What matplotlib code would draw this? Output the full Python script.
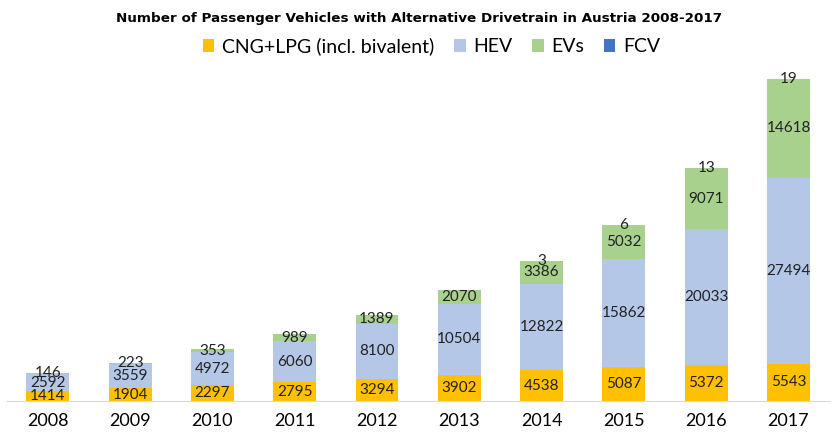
import matplotlib
matplotlib.use("Agg")
import matplotlib.pyplot as plt
import numpy as np

years = ["2008", "2009", "2010", "2011", "2012", "2013", "2014", "2015", "2016", "2017"]
cng = [1414, 1904, 2297, 2795, 3294, 3902, 4538, 5087, 5372, 5543]
hev = [2592, 3559, 4972, 6060, 8100, 10504, 12822, 15862, 20033, 27494]
evs = [146, 223, 353, 989, 1389, 2070, 3386, 5032, 9071, 14618]
fcv = [0, 0, 0, 0, 0, 0, 3, 6, 13, 19]

series = [("CNG+LPG (incl. bivalent)", cng, "#FFC000"),
          ("HEV", hev, "#B4C7E7"),
          ("EVs", evs, "#A9D18E"),
          ("FCV", fcv, "#4472C4")]

plt.rcParams['font.family'] = ['Lato', 'DejaVu Sans']
fig = plt.figure(figsize=(8.38, 4.33), dpi=100)
ax = fig.add_axes([0.008, 0.074, 0.982, 0.78])

x = np.arange(len(years))
bottom = np.zeros(len(years))
for name, vals, col in series:
    v = np.array(vals, dtype=float)
    ax.bar(x, v, 0.52, bottom=bottom, color=col, label=name, zorder=2)
    for xi, b, val in zip(x, bottom, v):
        if val > 0:
            ax.text(xi, b + val / 2, f"{int(val)}", ha="center", va="center",
                    fontsize=11, color="#222222", zorder=3)
    bottom += v

ax.set_xlim(-0.5, len(years) - 0.5)
ax.set_ylim(0, 50000)
ax.set_xticks(x)
ax.set_xticklabels(years, fontsize=13)
ax.set_yticks([])
for s in ["top", "right", "left"]:
    ax.spines[s].set_visible(False)
ax.spines["bottom"].set_color("#D9D9D9")
ax.tick_params(axis="x", length=0, pad=9)

fig.text(0.5, 0.958, "Number of Passenger Vehicles with Alternative Drivetrain in Austria 2008-2017",
         ha="center", va="center", fontsize=9.7, fontweight="bold", family=["DejaVu Sans"])
leg = fig.legend(loc="center", bbox_to_anchor=(0.515, 0.893), ncol=4, frameon=False,
                 fontsize=14, handlelength=0.6, handleheight=0.6, handletextpad=0.4,
                 columnspacing=1.0)

fig.savefig("out.png", dpi=100)
